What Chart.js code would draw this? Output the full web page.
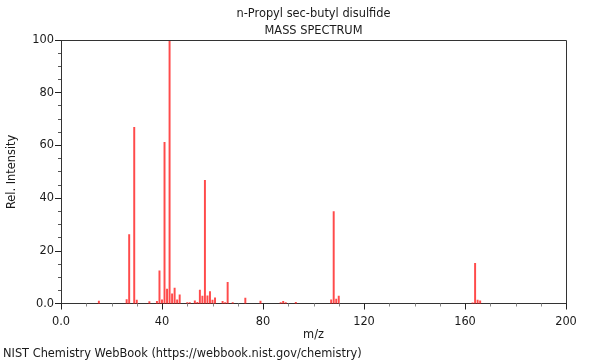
<!DOCTYPE html>
<html>
<head>
<meta charset="utf-8">
<script src="https://cdn.jsdelivr.net/npm/chart.js@4/dist/chart.umd.min.js"></script>
<style>
html,body{margin:0;padding:0;background:#fff;}
canvas{display:block;}
</style>
</head>
<body>
<canvas id="c" width="600" height="360"></canvas>
<script>
// ---- data ----
const mz        = [15, 26, 27, 29, 30, 35, 38, 39, 40, 41, 42, 43, 44, 45, 46, 47, 50, 51, 53, 54, 55, 56, 57, 58, 59, 60, 61, 64, 65, 66, 68, 73, 79, 87, 88, 89, 93, 107, 108, 109, 110, 163, 164, 165, 166];
const intensity = [1.0, 1.6, 26.2, 66.9, 1.4, 0.8, 0.9, 12.5, 1.5, 61.2, 5.6, 100, 3.8, 6.0, 1.5, 3.4, 0.5, 0.5, 1.1, 0.6, 5.2, 2.9, 46.8, 3.0, 4.6, 1.4, 2.3, 0.9, 0.5, 8.1, 0.5, 2.2, 1.0, 0.5, 0.9, 0.5, 0.6, 1.5, 35.0, 1.8, 2.9, 0.4, 15.3, 1.4, 1.1];
const xMajorTicks = [0, 40, 80, 120, 160, 200];
const xTickLabels = ['0.0', '40', '80', '120', '160', '200'];
const yMajorTicks = [0, 20, 40, 60, 80, 100];
const yTickLabels = ['0.0', '20', '40', '60', '80', '100'];
const titleLines = ['n-Propyl sec-butyl disulfide', 'MASS SPECTRUM'];
const footerText = 'NIST Chemistry WebBook (https://webbook.nist.gov/chemistry)';

const FONT = 'DejaVu Sans';
const FS = 11.4;
const TXT = '#1a1a1a';

const tickPlugin = {
  id: 'tickMarks',
  afterDraw(chart) {
    const ctx = chart.ctx;
    const ca = chart.chartArea;
    const top = Math.floor(ca.top) + 0.5;
    const bottom = Math.floor(ca.bottom) + 0.5;
    ctx.save();
    // frame (top & right)
    ctx.strokeStyle = '#333';
    ctx.lineWidth = 1;
    ctx.beginPath();
    ctx.moveTo(ca.left, top);
    ctx.lineTo(Math.round(ca.right) + 0.5, top);
    ctx.lineTo(Math.round(ca.right) + 0.5, bottom);
    ctx.stroke();
    // x ticks
    const xs = chart.scales.x;
    xs.ticks.forEach(t => {
      const major = xMajorTicks.includes(t.value);
      const px = Math.round(xs.getPixelForValue(t.value)) + 0.5;
      ctx.strokeStyle = major ? '#222' : '#888';
      ctx.beginPath();
      ctx.moveTo(px, bottom);
      ctx.lineTo(px, bottom + (major ? 6 : 3));
      ctx.stroke();
    });
    const ys = chart.scales.y;
    ys.ticks.forEach(t => {
      const major = yMajorTicks.includes(t.value);
      const py = Math.floor(ys.getPixelForValue(t.value)) + 0.5;
      ctx.strokeStyle = major ? '#222' : '#555';
      ctx.beginPath();
      ctx.moveTo(ca.left, py);
      ctx.lineTo(ca.left - (major ? 6 : 3), py);
      ctx.stroke();
    });
    ctx.restore();
  }
};

new Chart(document.getElementById('c'), {
  type: 'bar',
  data: {
    datasets: [{
      data: mz.map((m, i) => ({x: m, y: intensity[i]})),
      backgroundColor: 'rgba(255,30,30,0.8)',
      borderWidth: 0,
      barThickness: 1.3
    }]
  },
  options: {
    responsive: false,
    animation: false,
    devicePixelRatio: 1,
    layout: { padding: { left: 3, right: 34, top: 0, bottom: 0 } },
    plugins: {
      legend: { display: false },
      tooltip: { enabled: false },
      title: {
        display: true,
        text: titleLines,
        fullSize: false,
        color: TXT,
        font: { family: FONT, size: FS, weight: 'normal', lineHeight: 17 / FS },
        padding: { top: 5.5, bottom: 0.5 }
      },
      subtitle: {
        display: true,
        text: footerText,
        position: 'bottom',
        align: 'start',
        fullSize: true,
        color: TXT,
        font: { family: FONT, size: FS, weight: 'normal', lineHeight: 12 / FS },
        padding: { top: 0, bottom: 0 }
      }
    },
    scales: {
      x: {
        type: 'linear',
        min: 0,
        max: 200,
        offset: false,
        afterFit(s) { s.height = 44.2; },
        ticks: {
          stepSize: 10,
          autoSkip: false,
          maxRotation: 0,
          color: TXT,
          font: { family: FONT, size: FS },
          padding: 5,
          callback(v) { const i = xMajorTicks.indexOf(v); return i >= 0 ? xTickLabels[i] : ''; }
        },
        grid: { drawOnChartArea: false, drawTicks: true, tickLength: 6, tickColor: 'rgba(0,0,0,0)' },
        border: { display: true, color: '#333', width: 1 },
        title: { display: true, text: 'm/z', color: TXT, font: { family: FONT, size: FS }, padding: { top: 0, bottom: 6.6 } }
      },
      y: {
        min: 0,
        max: 100,
        afterFit(s) { s.width = 58; },
        ticks: {
          stepSize: 5,
          autoSkip: false,
          color: TXT,
          font: { family: FONT, size: FS },
          padding: 1,
          callback(v) { const i = yMajorTicks.indexOf(v); return i >= 0 ? yTickLabels[i] : ''; }
        },
        grid: { drawOnChartArea: false, drawTicks: true, tickLength: 6, tickColor: 'rgba(0,0,0,0)' },
        border: { display: true, color: '#333', width: 1 },
        title: { display: true, text: 'Rel. Intensity', color: TXT, font: { family: FONT, size: FS }, padding: { top: 2.2, bottom: 0 } }
      }
    }
  },
  plugins: [tickPlugin]
});
</script>
</body>
</html>
